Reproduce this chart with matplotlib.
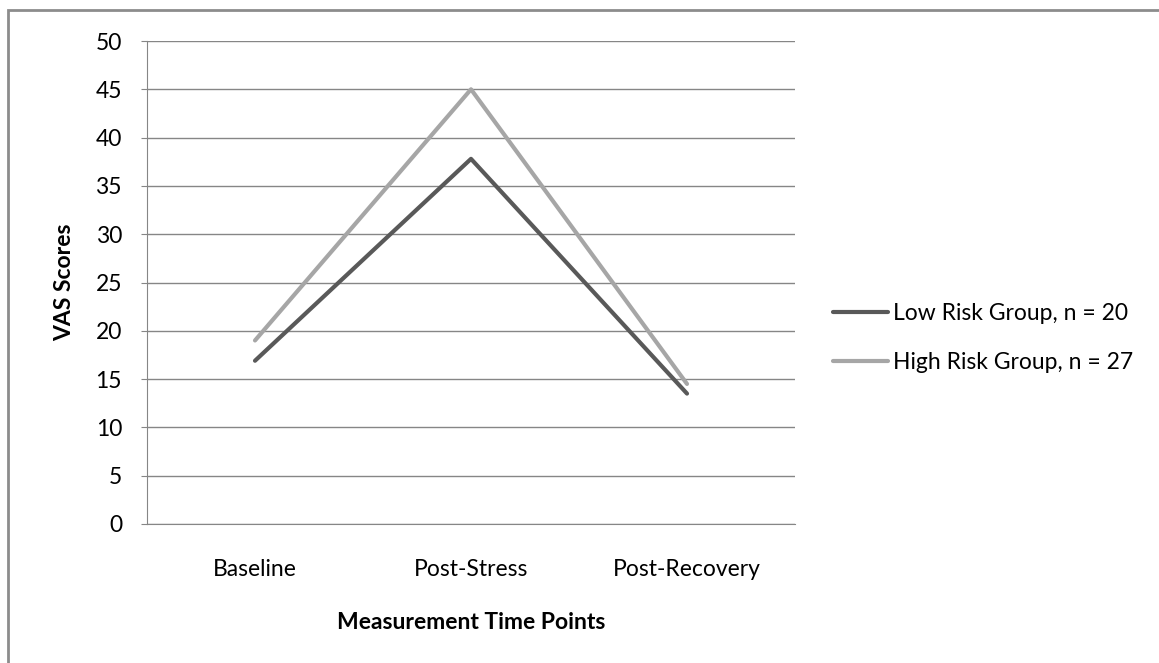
import matplotlib.pyplot as plt
from matplotlib.patches import Rectangle

plt.rcParams['font.family'] = ['Lato', 'DejaVu Sans']

time_points = ["Baseline", "Post-Stress", "Post-Recovery"]
low_risk = [16.9, 37.8, 13.5]
high_risk = [19.0, 45.0, 14.5]
series_labels = ["Low Risk Group, n = 20", "High Risk Group, n = 27"]
y_ticks = list(range(0, 51, 5))

fs = 16.5

fig = plt.figure(figsize=(11.59, 6.63), dpi=100)
ax = fig.add_axes([147 / 1159, 1 - 524 / 663, 648 / 1159, 483 / 663])

x = list(range(len(time_points)))
ax.plot(x, low_risk, color="#595959", lw=3, solid_capstyle="round", label=series_labels[0])
ax.plot(x, high_risk, color="#a6a6a6", lw=3, solid_capstyle="round", label=series_labels[1])

ax.set_xlim(-0.5, 2.5)
ax.set_ylim(0, 50)
ax.set_yticks(y_ticks)
ax.set_xticks(x)
ax.set_xticklabels(time_points, fontsize=fs)
ax.tick_params(axis="y", labelsize=fs, length=4, color="#868686", pad=14)
ax.tick_params(axis="x", length=0, pad=25)
ax.yaxis.grid(True, color="#868686", lw=1)
ax.set_axisbelow(True)
for side in ["top", "right"]:
    ax.spines[side].set_visible(False)
for side in ["left", "bottom"]:
    ax.spines[side].set_color("#868686")

ax.set_ylabel("VAS Scores", fontsize=fs, fontweight="bold", labelpad=15)
ax.set_xlabel("Measurement Time Points", fontsize=fs, fontweight="bold", labelpad=23)

fig.legend(loc="center left", bbox_to_anchor=(833 / 1159, 1 - 338 / 663),
           frameon=False, fontsize=fs, handlelength=2.4, handletextpad=0.2,
           labelspacing=1.25, borderpad=0, borderaxespad=0)

# outer chart border
fig.patches.append(Rectangle((8 / 1159, -0.1), 1.2, 1.1 - 10 / 663,
                             transform=fig.transFigure, fill=False,
                             edgecolor="#8c8c8c", lw=2))

fig.savefig("out.png", dpi=100)
